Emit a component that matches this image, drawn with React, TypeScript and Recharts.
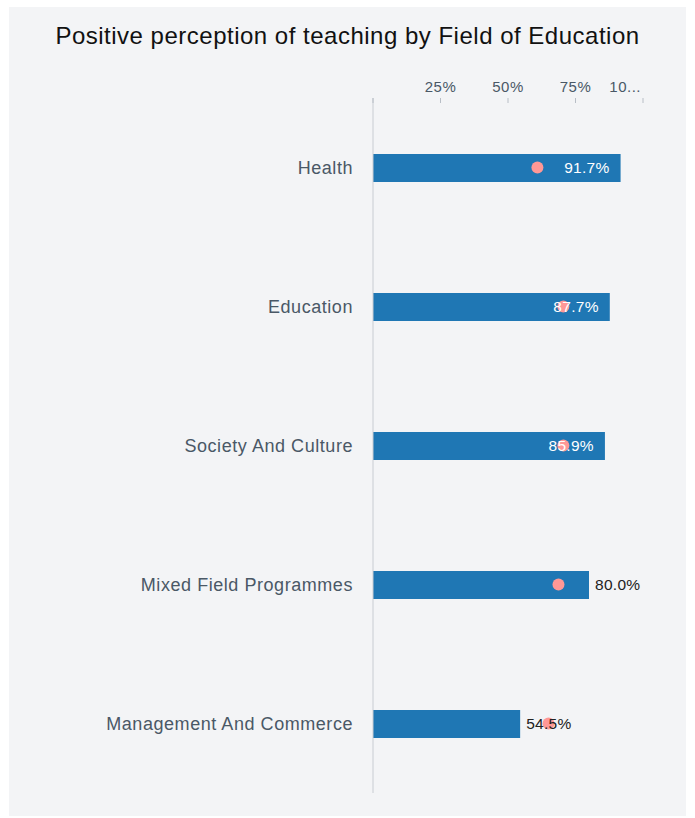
import {
  Bar,
  ComposedChart,
  LabelList,
  Scatter,
  XAxis,
  YAxis,
} from "recharts";

const fields = [
  "Health",
  "Education",
  "Society And Culture",
  "Mixed Field Programmes",
  "Management And Commerce",
];
const positive = [91.7, 87.7, 85.9, 80.0, 54.5];
const benchmark = [60.9, 70.5, 70.5, 68.7, 65.0];
const xTicks = [0, 25, 50, 75, 100];
const xTickLabels = ["", "25%", "50%", "75%", "10..."];

const data = fields.map((name, i) => ({
  name,
  positive: positive[i],
  benchmark: benchmark[i],
}));

const FONT = "'Liberation Sans', Arial, sans-serif";
const SLATE = "#4a5866";

const TopTick = (props: any) => {
  const { x, y, payload, index } = props;
  const last = index === xTicks.length - 1;
  return (
    <g>
      <line x1={x} y1={y} x2={x} y2={y + 5} stroke="#b8bec6" />
      <text
        x={last ? x - 2 : x}
        y={y - 6}
        textAnchor={last ? "end" : "middle"}
        fill={SLATE}
        fontSize={15}
        letterSpacing={0.5}
        fontFamily={FONT}
      >
        {xTickLabels[xTicks.indexOf(payload.value)]}
      </text>
    </g>
  );
};

const BarValue = (props: any) => {
  const { x, y, width, height, value } = props;
  const inside = value >= 85;
  return (
    <text
      x={inside ? x + width - 11 : x + width + 6}
      y={y + height / 2 + 5}
      textAnchor={inside ? "end" : "start"}
      fill={inside ? "#ffffff" : "#222222"}
      fontSize={15.5}
      letterSpacing={0.3}
      fontFamily={FONT}
    >
      {value.toFixed(1) + "%"}
    </text>
  );
};

export default function App() {
  return (
    <div
      style={{
        position: "absolute",
        left: 0,
        top: 0,
        width: 695,
        height: 818,
        background: "#ffffff",
        fontFamily: FONT,
      }}
    >
      <div
        style={{
          position: "absolute",
          left: 9,
          top: 7,
          width: 677,
          height: 809,
          background: "#f3f4f6",
        }}
      />
      <div
        style={{
          position: "absolute",
          left: 0,
          top: 22,
          width: 695,
          textAlign: "center",
          fontSize: 24,
          letterSpacing: 0.5,
          color: "#111111",
        }}
      >
        Positive perception of teaching by Field of Education
      </div>
      <div style={{ position: "absolute", left: 0, top: 0 }}>
        <ComposedChart
          width={695}
          height={818}
          data={data}
          layout="vertical"
          margin={{ top: 68, right: 52, bottom: 25, left: 13 }}
        >
          <XAxis
            type="number"
            orientation="top"
            domain={[0, 100]}
            ticks={xTicks}
            height={30}
            axisLine={false}
            tickLine={false}
            tickSize={0}
            tickMargin={0}
            tick={<TopTick />}
            interval={0}
          />
          <YAxis
            type="category"
            dataKey="name"
            width={360}
            axisLine={{ stroke: "#c8ccd2" }}
            tickLine={false}
            tickSize={0}
            tickMargin={20}
            tick={{ fill: SLATE, fontSize: 18, letterSpacing: 0.55, fontFamily: FONT }}
          />
          <Bar
            dataKey="positive"
            fill="#1f77b4"
            barSize={28}
            isAnimationActive={false}
          >
            <LabelList dataKey="positive" content={<BarValue />} />
          </Bar>
          <Scatter
            dataKey="benchmark"
            isAnimationActive={false}
            shape={(p: any) => <circle cx={p.cx} cy={p.cy} r={6} fill="#ff9896" />}
          />
        </ComposedChart>
      </div>
    </div>
  );
}
